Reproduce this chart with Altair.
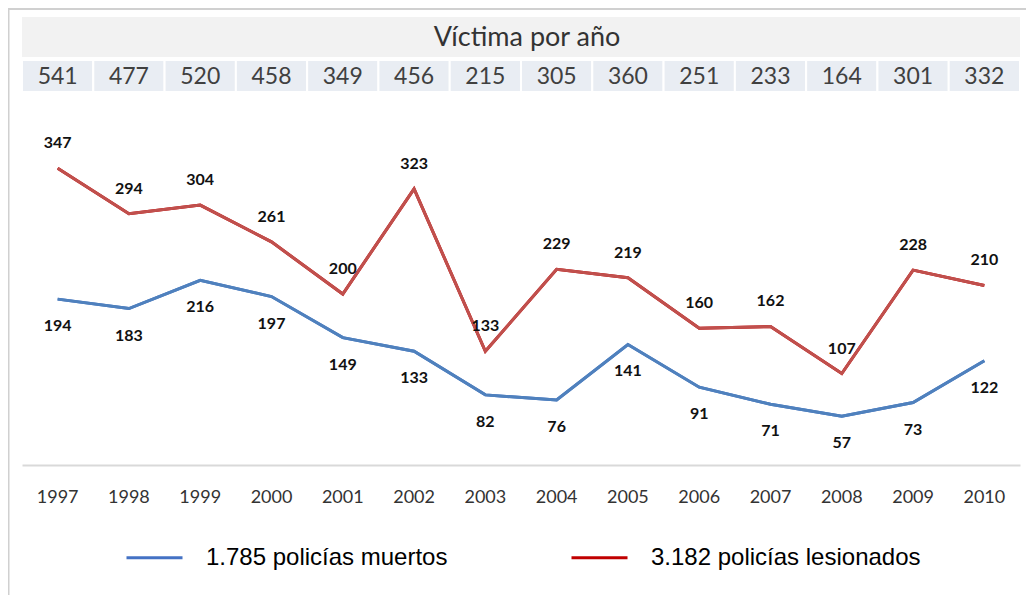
import altair as alt
import pandas as pd

years = [str(y) for y in range(1997, 2011)]
muertos = [194, 183, 216, 197, 149, 133, 82, 76, 141, 91, 71, 57, 73, 122]
lesionados = [347, 294, 304, 261, 200, 323, 133, 229, 219, 160, 162, 107, 228, 210]
victimas = [541, 477, 520, 458, 349, 456, 215, 305, 360, 251, 233, 164, 301, 332]
series_names = ["1.785 policías muertos", "3.182 policías lesionados"]
title_text = "Víctima por año"

W, H = 998, 448
FONT = "Lato"

rows = []
for y, m, l in zip(years, muertos, lesionados):
    rows.append({"year": y, "series": series_names[0], "value": m})
    rows.append({"year": y, "series": series_names[1], "value": l})
df = pd.DataFrame(rows)
hdr = pd.DataFrame({"year": years, "total": victimas})

xscale = alt.Scale(domain=years, paddingInner=0, paddingOuter=0)
xenc = alt.X("year:O", scale=xscale,
             axis=alt.Axis(title=None, labelAngle=0, ticks=False, tickSize=0, labelPadding=32,
                           labelAlign="center", bandPosition=0.5, labelFlush=False,
                           labelFont=FONT, labelFontSize=18, labelColor="#333333",
                           domainColor="#d9d9d9", domainWidth=2, grid=False))
yscale = alt.Scale(domain=[0, 524], nice=False, zero=True)
yenc = alt.Y("value:Q", scale=yscale, axis=None)

base = alt.Chart(df)

legend_lines = base.mark_line(strokeWidth=3).encode(
    x=xenc, y=yenc,
    color=alt.Color("series:N", scale=alt.Scale(domain=series_names, range=["#4472c4", "#c00000"]),
                    legend=alt.Legend(title=None, orient="none", legendX=103, legendY=511,
                                      direction="horizontal", symbolType="stroke",
                                      symbolSize=3136, symbolStrokeWidth=3, labelOffset=22,
                                      columnPadding=117, labelFont="Liberation Sans",
                                      labelFontSize=24, labelColor="#000000", labelLimit=400)),
)

blue_line = base.transform_filter(alt.datum.series == series_names[0]).mark_line(
    strokeWidth=3, color="#4f81bd").encode(x="year:O", y=alt.Y("value:Q", scale=yscale))
red_line = base.transform_filter(alt.datum.series == series_names[1]).mark_line(
    strokeWidth=3, color="#c0504d").encode(x="year:O", y=alt.Y("value:Q", scale=yscale))

blue_lbl = base.transform_filter(alt.datum.series == series_names[0]).mark_text(
    dy=27, font=FONT, fontSize=16, fontWeight="bold", color="#111111").encode(
    x="year:O", y=alt.Y("value:Q", scale=yscale), text="value:Q")
red_lbl = base.transform_filter(alt.datum.series == series_names[1]).mark_text(
    dy=-25, font=FONT, fontSize=16, fontWeight="bold", color="#111111").encode(
    x="year:O", y=alt.Y("value:Q", scale=yscale), text="value:Q")

one = alt.Data(values=[{"k": 1}])
title_band = alt.Chart(one).mark_rect(color="#f2f2f2").encode(
    x=alt.value(0), x2=alt.value(W), y=alt.value(0), y2=alt.value(40))
title_mark = alt.Chart(one).mark_text(text=title_text, font=FONT, fontSize=27,
                                      color="#333333", baseline="middle").encode(
    x=alt.value(W / 2 + 6), y=alt.value(21))

cells = alt.Chart(hdr).mark_rect(color="#e9edf3", stroke="white", strokeWidth=2).encode(
    x="year:O", y=alt.value(43), y2=alt.value(75))
cell_txt = alt.Chart(hdr).mark_text(font=FONT, fontSize=23, color="#404040",
                                    baseline="middle").encode(
    x="year:O", y=alt.value(60), text="total:Q")

border_top = alt.Chart(one).mark_rule(color="#d0d0d0", strokeWidth=2).encode(
    x=alt.value(-14), x2=alt.value(W + 6), y=alt.value(-8))
border_left = alt.Chart(one).mark_rule(color="#d0d0d0", strokeWidth=3).encode(
    x=alt.value(-14), y=alt.value(-9), y2=alt.value(H + 130))

chart = alt.layer(
    title_band, title_mark, cells, cell_txt, border_top, border_left,
    legend_lines, blue_line, red_line, blue_lbl, red_lbl,
).properties(
    width=W, height=H,
    autosize=alt.AutoSizeParams(type="none"),
    padding={"left": 14, "top": 9, "right": 6, "bottom": 130},
).configure_view(stroke=None).resolve_scale(x="shared", y="shared")

chart.save("out.html", embed_options={"renderer": "svg", "actions": False})
